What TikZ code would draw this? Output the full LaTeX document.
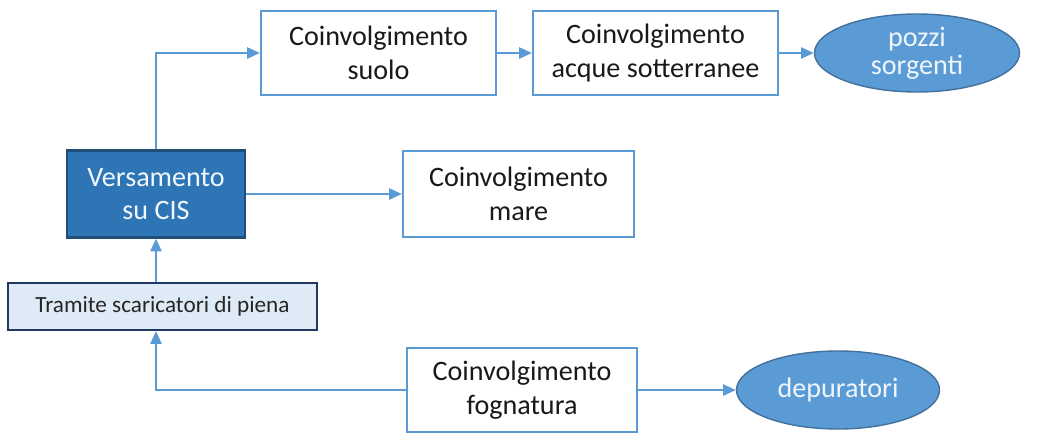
\documentclass[tikz,border=0pt]{standalone}
\usepackage{fontspec}
\setmainfont{Carlito}
\usepackage{tikz}
\usetikzlibrary{shapes,arrows.meta}
\definecolor{linea}{HTML}{5B9BD5}
\definecolor{scuro}{HTML}{2E75B6}
\definecolor{bordoscuro}{HTML}{1F4E79}
\definecolor{chiaro}{HTML}{DEEBF7}
\definecolor{navy}{HTML}{203864}
\definecolor{ellbordo}{HTML}{41719C}
\tikzstyle{box}=[rectangle,draw=linea,line width=1.6pt,fill=white,align=center,font=\fontsize{20}{24}\selectfont,text=black!90]
\tikzstyle{sorgente}=[rectangle,draw=bordoscuro,line width=1.6pt,fill=scuro,align=center,font=\fontsize{20}{24}\selectfont,text=white!92!linea]
\tikzstyle{tramite}=[rectangle,draw=navy,line width=1.6pt,fill=chiaro,align=center,font=\fontsize{16.5}{18}\selectfont,text=black!85]
\tikzstyle{recettore}=[ellipse,draw=ellbordo,line width=1pt,fill=linea,align=center,font=\fontsize{20}{20}\selectfont,text=white!90!linea,inner sep=0pt]
\tikzstyle{freccia}=[draw=linea,line width=1.1pt,-{Triangle[length=9pt,width=8pt]}]

\begin{document}
\begin{tikzpicture}[x=0.025cm,y=-0.025cm]
        \useasboundingbox (0,0) rectangle (1046,433);
        \node[sorgente,minimum width=178*0.025cm,minimum height=87*0.025cm] (cis) at (156,194) {Versamento\\su CIS};
        \node[tramite,minimum width=309*0.025cm,minimum height=47*0.025cm] (scar) at (162.5,306.5) {Tramite scaricatori di piena};
        \node[box,minimum width=235*0.025cm,minimum height=84*0.025cm] (suolo) at (378.5,53) {Coinvolgimento\\suolo};
        \node[box,minimum width=245*0.025cm,minimum height=84*0.025cm] (acque) at (655.5,53) {Coinvolgimento\\acque sotterranee};
        \node[recettore,minimum width=205*0.025cm,minimum height=78*0.025cm] (pozzi) at (917,53) {pozzi\\sorgenti};
        \node[box,minimum width=231*0.025cm,minimum height=86*0.025cm] (mare) at (518.5,194) {Coinvolgimento\\mare};
        \node[box,minimum width=230*0.025cm,minimum height=84*0.025cm] (fogna) at (522,390) {Coinvolgimento\\fognatura};
        \node[recettore,minimum width=203*0.025cm,minimum height=78*0.025cm] (depu) at (838,390) {depuratori};
        \coordinate (ingresso) at (cis.south |- scar.south);
        % collegamenti
        \draw[freccia] (cis.north) |- (suolo.west);
        \draw[freccia] (suolo) -- (acque);
        \draw[freccia] (acque) -- (pozzi);
        \draw[freccia] (cis) -- (mare);
        \draw[freccia] (cis.south |- scar.north) -- (cis.south);
        \draw[freccia] (fogna.west) -| (ingresso);
        \draw[freccia] (fogna) -- (depu);
\end{tikzpicture}
\end{document}
